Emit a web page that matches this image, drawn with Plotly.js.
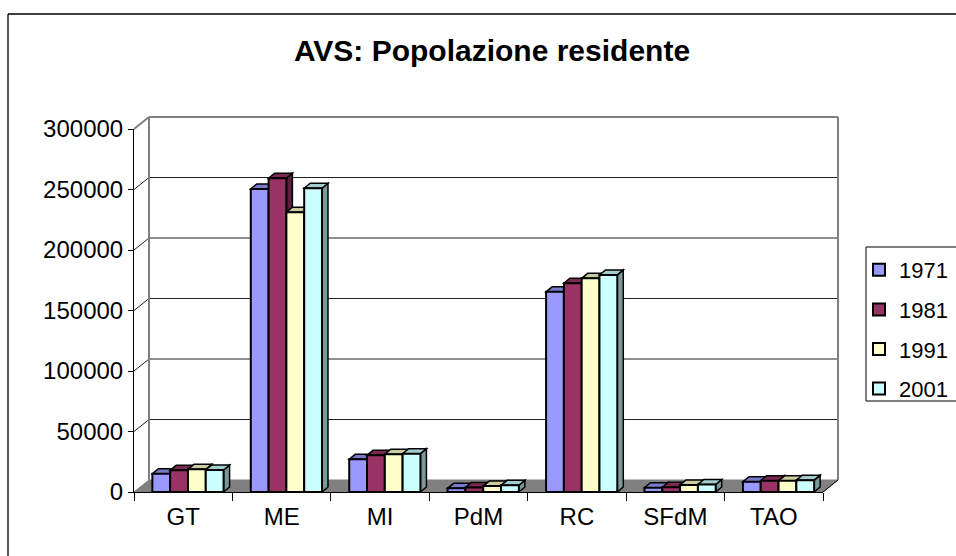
<!DOCTYPE html>
<html>
<head>
<meta charset="utf-8">
<script src="https://cdn.plot.ly/plotly-3.0.1.min.js"></script>
<style>
  html, body { margin: 0; padding: 0; background: #ffffff; }
  #chart { width: 956px; height: 556px; }
</style>
</head>
<body>
<div id="chart"></div>
<script>
// ---------------- data ----------------
const categories = ['GT', 'ME', 'MI', 'PdM', 'RC', 'SFdM', 'TAO'];
const seriesNames = ['1971', '1981', '1991', '2001'];
const y1971 = [15100, 250500, 27000, 3000, 165400, 3600, 8500];
const y1981 = [17900, 259300, 30300, 3800, 172500, 3900, 9400];
const y1991 = [18700, 231300, 31200, 4900, 176600, 5800, 9200];
const y2001 = [18200, 251000, 31700, 5500, 179400, 6200, 9800];
const yTicks = [0, 50000, 100000, 150000, 200000, 250000, 300000];
const yMax = 300000;

// ---------------- styles ----------------
const frontColors = ['#9999FF', '#993366', '#FFFFCC', '#CCFFFF'];
const topColors   = ['#7A7ACC', '#7A2952', '#CCCCA3', '#A3CCCC'];
const sideColors  = ['#5C5C99', '#5C1F3D', '#99997A', '#7A9999'];
const FONT = 'Liberation Sans, Arial, sans-serif';

// plot-area geometry (pixels)
const L = 134, R = 823, T = 129, B = 492;
const W = R - L, H = B - T;
const catPx = W / categories.length;
const wallDX = 15, wallDY = 12;      // back-wall offset
const barDX = 6, barDY = 5;          // bar depth
const barW = 17.8 / catPx;
const groupShift = 4.75 / catPx;
const off0 = -2 * barW + groupShift;

const PX = x => (x - L) / W;           // pixel -> paper x
const PY = y => (B - y) / H;           // pixel -> paper y

const series = [y1971, y1981, y1991, y2001];

const traces = series.map((vals, i) => ({
  type: 'bar',
  name: seriesNames[i],
  x: categories,
  y: vals,
  width: barW,
  offset: off0 + i * barW,
  legendgroup: 'g' + i,
  marker: { color: frontColors[i], line: { color: '#000000', width: 2 } },
  hoverinfo: 'x+y+name'
}));

const shapes = [];
// chart border (left and top visible)
shapes.push({ type: 'line', xref: 'paper', yref: 'paper', x0: PX(8), x1: PX(8), y0: PY(14), y1: PY(570), line: { color: '#000', width: 1.3 }, layer: 'below' });
shapes.push({ type: 'line', xref: 'paper', yref: 'paper', x0: PX(8), x1: PX(970), y0: PY(14), y1: PY(14), line: { color: '#000', width: 1.3 }, layer: 'below' });

// floor
shapes.push({ type: 'path', xref: 'paper', yref: 'paper', layer: 'below',
  path: `M ${PX(L)},${PY(B)} L ${PX(R)},${PY(B)} L ${PX(R + wallDX)},${PY(B - wallDY)} L ${PX(L + wallDX)},${PY(B - wallDY)} Z`,
  fillcolor: '#808080', line: { color: '#808080', width: 1 } });

// back wall gridlines + side-wall diagonals
yTicks.forEach(v => {
  const yf = v / yMax;            // front paper y
  const yb = yf + wallDY / H;     // back paper y
  if (v > 0) {
    shapes.push({ type: 'line', xref: 'paper', yref: 'paper', layer: 'below',
      x0: PX(L + wallDX), x1: PX(R + wallDX), y0: yb, y1: yb,
      line: { color: v === yMax ? '#808080' : '#202020', width: v === yMax ? 2 : 1 } });
    shapes.push({ type: 'line', xref: 'paper', yref: 'paper', layer: 'below',
      x0: 0, x1: PX(L + wallDX), y0: yf, y1: yb,
      line: { color: v === yMax ? '#808080' : '#202020', width: v === yMax ? 2 : 1 } });
  }
});
// back wall left and right edges
shapes.push({ type: 'line', xref: 'paper', yref: 'paper', layer: 'below',
  x0: PX(L + wallDX), x1: PX(L + wallDX), y0: PY(B - wallDY), y1: 1 + wallDY / H,
  line: { color: '#808080', width: 2 } });
shapes.push({ type: 'line', xref: 'paper', yref: 'paper', layer: 'below',
  x0: PX(R + wallDX), x1: PX(R + wallDX), y0: PY(B - wallDY), y1: 1 + wallDY / H,
  line: { color: '#808080', width: 2 } });
// floor right diagonal edge
shapes.push({ type: 'line', xref: 'paper', yref: 'paper', layer: 'below',
  x0: 1, x1: PX(R + wallDX), y0: 0, y1: wallDY / H,
  line: { color: '#000', width: 1 } });

// 3D depth faces of bars (drawn beneath bar front faces)
const dxu = barDX / catPx;
const dyu = barDY / H * yMax;
categories.forEach((c, j) => {
  series.forEach((vals, i) => {
    const v = vals[j];
    const xl = j + off0 + i * barW;
    const xr = xl + barW;
    // side face
    shapes.push({ type: 'path', xref: 'x', yref: 'y', layer: 'between',
      path: `M ${xr},${v} L ${xr + dxu},${v + dyu} L ${xr + dxu},${dyu} L ${xr},0 Z`,
      fillcolor: sideColors[i], line: { color: '#000', width: 1.5 } });
    // top face
    shapes.push({ type: 'path', xref: 'x', yref: 'y', layer: 'between',
      path: `M ${xl},${v} L ${xr},${v} L ${xr + dxu},${v + dyu} L ${xl + dxu},${v + dyu} Z`,
      fillcolor: topColors[i], line: { color: '#000', width: 1.5 } });
  });
});

// legend box
shapes.push({ type: 'rect', xref: 'paper', yref: 'paper', layer: 'below',
  x0: PX(866), x1: PX(990), y0: PY(247), y1: PY(401),
  fillcolor: '#ffffff', line: { color: '#000', width: 1 } });

const layout = {
  width: 956, height: 556,
  margin: { l: L, r: 956 - R, t: T, b: 556 - B, pad: 0, autoexpand: false },
  paper_bgcolor: '#ffffff',
  plot_bgcolor: 'rgba(0,0,0,0)',
  font: { family: FONT, color: '#000000' },
  title: {
    text: '<b>AVS: Popolazione residente</b>',
    font: { family: FONT, size: 30, color: '#000' },
    xref: 'paper', x: PX(492), xanchor: 'center',
    yref: 'container', y: 1 - 50 / 556, yanchor: 'middle'
  },
  barmode: 'overlay',
  xaxis: {
    type: 'category', range: [-0.5, categories.length - 0.5],
    tickson: 'boundaries', ticks: 'outside', ticklen: 8, tickcolor: '#000', tickwidth: 1,
    showline: true, linecolor: '#000', linewidth: 1, showgrid: false, zeroline: false,
    ticklabelstandoff: 3,
    tickfont: { family: FONT, size: 24, color: '#000' }, fixedrange: true
  },
  yaxis: {
    range: [0, yMax], tickvals: yTicks, tickformat: 'd',
    ticks: 'outside', ticklen: 5, tickcolor: '#000', tickwidth: 1,
    showline: true, linecolor: '#000', linewidth: 1, showgrid: false, zeroline: false,
    tickfont: { family: FONT, size: 24, color: '#000' }, fixedrange: true
  },
  showlegend: true,
  legend: {
    x: PX(859), xanchor: 'left', y: PY(249), yanchor: 'top',
    bgcolor: 'rgba(0,0,0,0)', borderwidth: 0,
    font: { family: FONT, size: 22, color: '#000' },
    tracegroupgap: 8, traceorder: 'grouped'
  },
  shapes: shapes
};

Plotly.newPlot('chart', traces, layout, { displayModeBar: false, staticPlot: true });
</script>
</body>
</html>
